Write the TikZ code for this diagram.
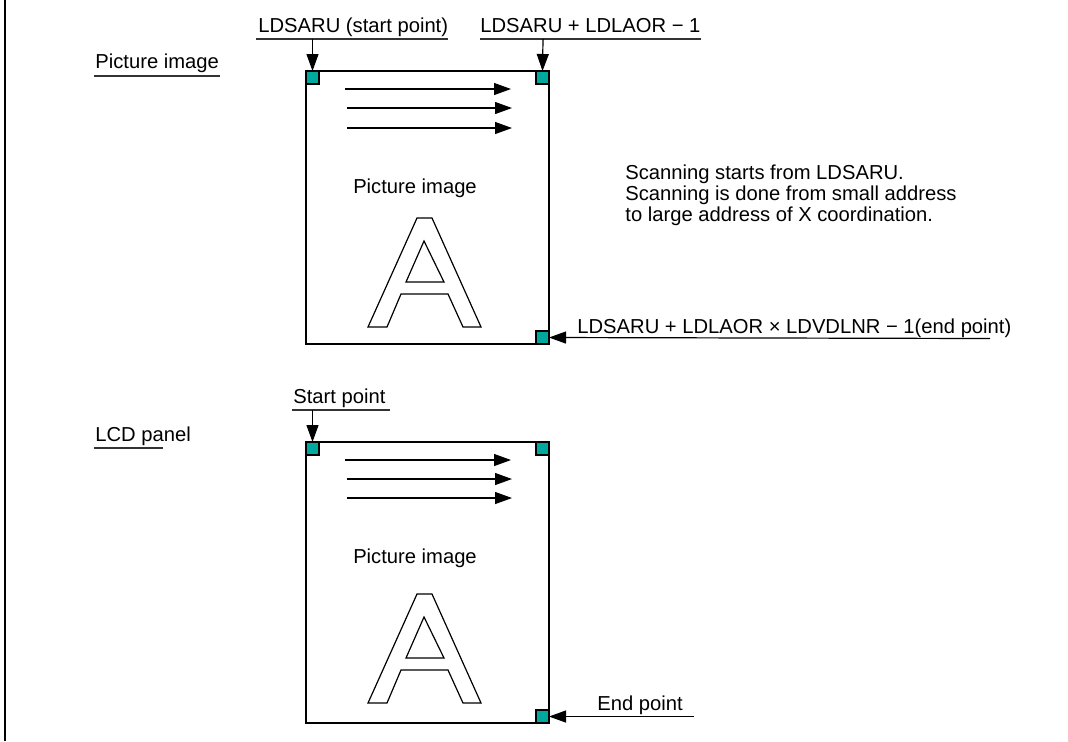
\documentclass[tikz,border=0pt]{standalone}
\usepackage{fontspec}
\setmainfont{Liberation Sans}
\usetikzlibrary{arrows.meta}
\definecolor{teal1}{RGB}{0,168,158}
\begin{document}
\begin{tikzpicture}[x=0.5pt,y=-0.5pt,
 font=\fontsize{10.1}{12}\selectfont,
 frame/.style={draw, line width=1.4pt, minimum width=121.5pt, inner sep=0pt, outer sep=0pt},
 sq/.style={draw, line width=0.6pt, fill=teal1, minimum size=6.5pt, inner sep=0pt, outer sep=0pt},
 arr/.style={line width=0.6pt, -{Triangle[length=8.5pt,width=6pt]}},
 uline/.style={line width=0.65pt, draw=black!80},
 txt/.style={anchor=base west, inner sep=0pt},
 glyph/.style={line width=0.6pt, line join=miter}]
\useasboundingbox (0,0) rectangle (1068,741);
\draw[line width=1.1pt] (5,0) -- (5,741);

% ---------- top: picture image ----------
\node[frame, minimum height=136.5pt] (box1) at (427.5,207.5) {};
\node[sq, anchor=north west] (s1a) at (box1.north west) {};
\node[sq, anchor=north east] (s1b) at (box1.north east) {};
\node[sq, anchor=south east] (s1c) at (box1.south east) {};

\node[txt] (l1) at (95,68) {Picture image};
\draw[uline] (94,76) -- (220,76);

\node[txt] (l2) at (258,32) {LDSARU (start point)};
\draw[uline] (256,39) -- (448,39);
\coordinate (u2) at (312.5,39);
\draw[arr] (u2) -- (s1a.north);

\node[txt] (l3) at (480,32) {LDSARU + LDLAOR − 1};
\draw[uline] (480,39) -- (701,39);
\coordinate (u3) at (543,39);
\draw[arr] (u3) -- (s1b.north);

\node[txt] (l4) at (577,333) {LDSARU + LDLAOR × LDVDLNR − 1(end point)};
\coordinate (u4) at (990,338.5);
\draw[arr] (u4) -- (s1c.east);

\foreach \i/\yy/\xa/\xb in {1/89/345/511, 2/108/347/512, 3/128/347/512}{
  \coordinate (ta\i) at (\xa,\yy);
  \coordinate (tb\i) at (\xb,\yy);
  \draw[arr] (ta\i) -- (tb\i);
}

\node[anchor=base, inner sep=0pt] (pi1) at (415,193) {Picture image};

\draw[glyph] (368,327) -- (417,218) -- (432,218) -- (481,327) -- (463,327) -- (448,294) -- (401,294) -- (387,327) -- cycle;
\draw[glyph] (424,241) -- (444,282) -- (406,282) -- cycle;

\node[txt] (sc1) at (625,179) {Scanning starts from LDSARU.};
\node[txt] (sc2) at (625,200) {Scanning is done from small address};
\node[txt] (sc3) at (625,221) {to large address of X coordination.};

% ---------- bottom: LCD panel ----------
\node[frame, minimum height=140.5pt] (box2) at (427.5,582.5) {};
\node[sq, anchor=north west] (s2a) at (box2.north west) {};
\node[sq, anchor=north east] (s2b) at (box2.north east) {};
\node[sq, anchor=south east] (s2c) at (box2.south east) {};

\node[txt] (l5) at (95,441) {LCD panel};
\draw[uline] (94,448) -- (163,448);

\node[txt] (l6) at (293,403) {Start point};
\draw[uline] (292,410) -- (390,410);
\coordinate (u6) at (312.5,410);
\draw[arr] (u6) -- (s2a.north);

\node[txt] (l7) at (597,710) {End point};
\coordinate (u7) at (694,716.5);
\draw[arr] (u7) -- (s2c.east);

\foreach \i/\yy/\xa/\xb in {1/460/345/511, 2/479/347/512, 3/498/347/512}{
  \coordinate (ba\i) at (\xa,\yy);
  \coordinate (bb\i) at (\xb,\yy);
  \draw[arr] (ba\i) -- (bb\i);
}

\node[anchor=base, inner sep=0pt] (pi2) at (415,563) {Picture image};

\begin{scope}[shift={(0,376)}]
\draw[glyph] (368,327) -- (417,218) -- (432,218) -- (481,327) -- (463,327) -- (448,294) -- (401,294) -- (387,327) -- cycle;
\draw[glyph] (424,241) -- (444,282) -- (406,282) -- cycle;
\end{scope}
\end{tikzpicture}
\end{document}
